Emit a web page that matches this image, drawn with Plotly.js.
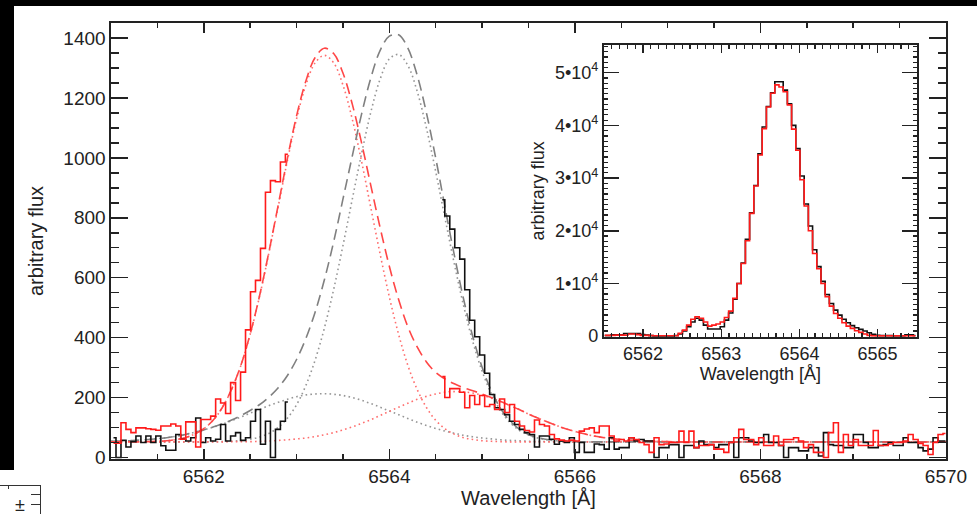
<!DOCTYPE html>
<html>
<head>
<meta charset="utf-8">
<script src="https://cdn.plot.ly/plotly-3.0.1.min.js"></script>
<style>
html,body{margin:0;padding:0;background:#fff;overflow:hidden;}
#wrap{position:relative;width:977px;height:514px;}
#chart{position:absolute;left:0;top:0;width:977px;height:514px;}
.blk{position:absolute;background:#000;}
.ln{position:absolute;background:#333;}
.glyph{position:absolute;font-family:"Liberation Sans",Arial,sans-serif;font-size:18px;line-height:18px;color:#222;}
</style>
</head>
<body>
<div id="wrap">
  <div id="chart"></div>
  <div class="blk" style="left:0;top:0;width:977px;height:6px;"></div>
  <div class="blk" style="left:0;top:0;width:14px;height:470px;"></div>
  <div class="ln" style="left:0;top:485px;width:41px;height:1px;"></div>
  <div class="ln" style="left:40px;top:485px;width:1px;height:29px;"></div>
  <div class="ln" style="left:31px;top:494px;width:9px;height:1px;"></div>
  <div class="ln" style="left:31px;top:504px;width:9px;height:1px;"></div>
  <div class="ln" style="left:8px;top:485px;width:1px;height:4px;"></div>
  <div class="glyph" style="left:15px;top:496px;">±</div>
</div>
<script>
// ---------------- DATA ----------------
// Spectra: histogram bins of equal width (Å); bin centres start at the given wavelengths
const binWidth = 0.0537;
const leftSegmentStart = 6561.027;   // first bin centre, blue part of spectrum
const rightSegmentStart = 6564.571;  // first bin centre, red part of spectrum

const blackLeft = [66, 0, 57, 35, 53, 72, 50, 72, 50, 72, 39, 24, 24, 77, 61, 55, 66, 132, 50, 66,
  55, 61, 110, 55, 72, 83, 57, 66, 121, 160, 44, 121, 0, 94, 121, 185];
const redLeft = [48, 48, 116, 94, 83, 99, 99, 96, 94, 91, 105, 105, 112, 105, 61, 119, 119, 35, 127, 127,
  138, 195, 182, 147, 250, 190, 285, 426, 553, 591, 698, 885, 924, 920, 986, 1012];

const blackRight = [860, 806, 762, 700, 662, 560, 458, 403, 342, 281,
  210, 166, 160, 143, 121, 110, 94, 83, 77, 35,
  72, 72, 61, 44, 55, 50, 66, 17, 50, 17,
  17, 45, 43, 28, 66, 28, 33, 33, 66, 55,
  60, 55, 55, 0, 33, 33, 43, 43, 0, 40,
  40, 33, 55, 43, 43, 33, 43, 43, 50, 0,
  66, 66, 55, 50, 50, 77, 50, 50, 40, 0,
  33, 33, 22, 22, 33, 33, 5, 83, 43, 40,
  40, 33, 33, 77, 77, 50, 33, 33, 40, 43,
  50, 40, 40, 66, 50, 50, 33, 22, 28, 66,
  55, 55];
const redRight = [270, 200, 230, 230, 218, 166, 207, 177, 207, 170,
  177, 160, 195, 150, 177, 121, 105, 90, 85, 125,
  110, 105, 77, 62, 58, 55, 58, 55, 88, 95,
  99, 83, 105, 105, 72, 55, 60, 55, 66, 60,
  50, 43, 17, 66, 43, 45, 50, 50, 88, 50,
  88, 33, 40, 40, 43, 28, 28, 17, 50, 66,
  94, 60, 60, 43, 66, 40, 40, 72, 40, 60,
  60, 66, 55, 33, 43, 17, 17, 0, 83, 116,
  17, 77, 40, 60, 40, 40, 40, 90, 40, 40,
  45, 50, 50, 55, 77, 60, 47, 40, 10, 50,
  77, 80];

// Model (fit) curves, sampled wavelengths in Å
const modelWave = [6561.0, 6561.1, 6561.2, 6561.3, 6561.4, 6561.5, 6561.6, 6561.7, 6561.8, 6561.9,
  6562.0, 6562.1, 6562.2, 6562.3, 6562.4, 6562.5, 6562.6, 6562.7, 6562.8, 6562.9,
  6563.0, 6563.1, 6563.2, 6563.3, 6563.4, 6563.5, 6563.6, 6563.7, 6563.8, 6563.9,
  6564.0, 6564.1, 6564.2, 6564.3, 6564.4, 6564.5, 6564.6, 6564.7, 6564.8, 6564.9,
  6565.0, 6565.1, 6565.2, 6565.3, 6565.4, 6565.5, 6565.6, 6565.7, 6565.8, 6565.9,
  6566.0, 6566.1, 6566.2, 6566.3, 6566.4, 6566.5, 6566.6, 6566.8, 6567.0, 6567.2, 6570.0];

const redTotal = [52, 52, 52, 52, 53, 54, 56, 60, 66, 78,
  96, 124, 167, 228, 308, 412, 538, 683, 839, 996,
  1140, 1256, 1335, 1366, 1348, 1283, 1180, 1051, 908, 768,
  638, 527, 436, 369, 319, 284, 262, 246, 233, 223,
  212, 200, 187, 173, 160, 145, 132, 119, 107, 96,
  87, 79, 72, 67, 63, 60, 58, 55, 53, 52, 52];
const redNarrow = [52, 52, 52, 52, 53, 54, 56, 60, 66, 78,
  96, 124, 167, 227, 307, 411, 536, 680, 834, 989,
  1130, 1243, 1317, 1342, 1317, 1243, 1130, 989, 834, 680,
  536, 411, 307, 227, 167, 124, 96, 78, 66, 60,
  56, 54, 53, 52, 52, 52, 52, 52, 52, 52,
  52, 52, 52, 52, 52, 52, 52, 52, 52, 52, 52];
const redBroad = [52, 52, 52, 52, 52, 52, 52, 52, 52, 52,
  52, 52, 52, 53, 53, 53, 54, 55, 57, 59,
  62, 65, 70, 76, 83, 92, 102, 114, 126, 140,
  154, 168, 181, 194, 204, 212, 218, 220, 219, 215,
  208, 198, 187, 173, 160, 145, 132, 119, 107, 96,
  87, 79, 72, 67, 63, 60, 58, 55, 53, 52, 52];

const greyTotal = [54, 55, 56, 58, 60, 63, 66, 71, 77, 84,
  92, 102, 112, 125, 140, 157, 176, 201, 232, 273,
  327, 397, 485, 593, 720, 862, 1005, 1145, 1266, 1358,
  1406, 1411, 1366, 1276, 1150, 999, 835, 676, 529, 403,
  301, 222, 163, 122, 95, 77, 67, 60, 57, 54,
  53, 52, 52, 52, 52, 52, 52, 52, 52, 52, 52];
const greyNarrow = [52, 52, 52, 52, 52, 52, 52, 52, 52, 52,
  52, 53, 53, 54, 57, 61, 68, 80, 100, 131,
  176, 240, 325, 432, 561, 707, 861, 1013, 1152, 1262,
  1330, 1345, 1308, 1222, 1099, 954, 799, 647, 507, 386,
  288, 212, 156, 117, 91, 75, 65, 59, 56, 54,
  53, 52, 52, 52, 52, 52, 52, 52, 52, 52, 52];
const greyBroad = [54, 55, 56, 58, 60, 63, 66, 71, 77, 84,
  92, 101, 111, 123, 135, 148, 160, 173, 184, 194,
  203, 209, 212, 213, 211, 207, 200, 191, 180, 168,
  155, 143, 130, 118, 107, 97, 88, 81, 74, 69,
  65, 62, 59, 57, 56, 54, 54, 53, 53, 52,
  52, 52, 52, 52, 52, 52, 52, 52, 52, 52, 52];

// Inset: full profile
const insetStart = 6561.510;
const insetBlack = [100, 100, 250, 250, 250, 500, 500, 500, 500, 300,
  200, 100, 0, 0, 0, 0, 0, 100, 400, 1000,
  1800, 2700, 3400, 3050, 2100, 1350, 1350, 1350, 1800, 3050,
  4400, 7000, 10000, 13900, 18400, 23400, 28600, 34600, 39700, 43600,
  46200, 48300, 48300, 46700, 44100, 40000, 35600, 30400, 25100, 20900,
  16400, 13200, 10400, 7900, 6200, 4950, 4000, 3200, 2550, 2000,
  1600, 1290, 970, 650, 340, 150, 100, 100, 100, 50,
  50, 50, 250, 250, 100];
const insetRed = [150, 150, 150, 200, 200, 200, 400, 400, 300, 150,
  150, 100, 80, 80, 80, 80, 80, 80, 530, 1150,
  2100, 3200, 3700, 3400, 2700, 1900, 2100, 2300, 2700, 3550,
  4760, 7170, 10000, 13800, 18100, 23300, 28500, 34400, 39400, 43500,
  46100, 47700, 47300, 46400, 43900, 39300, 35300, 29700, 24700, 20000,
  15700, 12800, 10000, 7500, 5700, 4300, 3400, 2550, 1900, 1480,
  1030, 720, 400, 150, 60, 50, 50, 50, 50, 50,
  50, 50, 50, 50, 50];

const mainTickVals = [0, 200, 400, 600, 800, 1000, 1200, 1400];
const insetTickVals = [0, 10000, 20000, 30000, 40000, 50000];
const insetTickText = ['0', '1•10<sup>4</sup>', '2•10<sup>4</sup>', '3•10<sup>4</sup>', '4•10<sup>4</sup>', '5•10<sup>4</sup>'];

// ---------------- STYLE ----------------
const RED = '#ff1a1a';
const RED_MODEL = 'rgb(255,70,70)';
const RED_DOT = 'rgb(255,110,110)';
const GREY = 'rgb(128,128,128)';
const GREY_DOT = 'rgb(150,150,150)';
const AX = '#222';

function model(y, color, dash, width) {
  return {x: modelWave, y: y, type: 'scatter', mode: 'lines', xaxis: 'x', yaxis: 'y',
    line: {color: color, dash: dash, width: width, shape: 'spline', smoothing: 1}, hoverinfo: 'skip'};
}
function hist(y, start, color, xa, ya) {
  return {y: y, x0: start, dx: binWidth, type: 'scatter', mode: 'lines', xaxis: xa, yaxis: ya,
    line: {color: color, width: 1.6, shape: 'hvh'}, hoverinfo: 'skip'};
}

const traces = [
  model(greyNarrow, GREY_DOT, '1.6px,3.2px', 1.6),
  model(greyBroad, GREY_DOT, '1.6px,3.2px', 1.6),
  model(redNarrow, RED_DOT, '1.6px,3.2px', 1.6),
  model(redBroad, RED_DOT, '1.6px,3.2px', 1.6),
  model(greyTotal, GREY, '11px,6px', 1.6),
  model(redTotal, RED_MODEL, '11px,6px', 1.6),
  hist(blackLeft, leftSegmentStart, '#111', 'x', 'y'),
  hist(blackRight, rightSegmentStart, '#111', 'x', 'y'),
  hist(redLeft, leftSegmentStart, RED, 'x', 'y'),
  hist(redRight, rightSegmentStart, RED, 'x', 'y'),
  hist(insetBlack, insetStart, '#111', 'x2', 'y2'),
  hist(insetRed, insetStart, RED, 'x2', 'y2')
];

const FONT = '"Liberation Sans", Arial, Helvetica, sans-serif';
const common = {showline: true, linecolor: AX, linewidth: 1.6, mirror: 'ticks', ticks: 'inside',
  tickcolor: AX, tickwidth: 1.5, showgrid: false, zeroline: false, fixedrange: true};

const layout = {
  width: 977, height: 514,
  margin: {l: 111, r: 31, t: 23, b: 55, pad: 0},
  paper_bgcolor: '#fff', plot_bgcolor: 'rgba(0,0,0,0)',
  showlegend: false,
  font: {family: FONT, size: 19, color: AX},
  xaxis: Object.assign({}, common, {
    range: [6561, 6570], tick0: 6562, dtick: 2, ticklen: 10,
    tickfont: {size: 19},
    minor: {dtick: 0.5, tick0: 6561, ticks: 'inside', ticklen: 5, tickwidth: 1.5, tickcolor: AX, showgrid: false},
    title: {text: 'Wavelength [Å]', font: {size: 20}, standoff: 2}
  }),
  yaxis: Object.assign({}, common, {
    range: [-5, 1450], tickmode: 'array', tickvals: mainTickVals, ticklen: 17,
    tickfont: {size: 19},
    minor: {dtick: 50, tick0: 0, ticks: 'inside', ticklen: 8, tickwidth: 1.5, tickcolor: AX, showgrid: false},
    title: {text: 'arbitrary flux', font: {size: 20}, standoff: 14}
  }),
  xaxis2: Object.assign({}, common, {
    domain: [0.5904, 0.9649], anchor: 'y2', linewidth: 2,
    range: [6561.5, 6565.5], tick0: 6562, dtick: 1, ticklen: 8,
    tickfont: {size: 18},
    minor: {dtick: 0.1, tick0: 6561.5, ticks: 'inside', ticklen: 4, tickwidth: 1.2, tickcolor: AX, showgrid: false},
    title: {text: 'Wavelength [Å]', font: {size: 18}, standoff: 0}
  }),
  yaxis2: Object.assign({}, common, {
    domain: [0.2805, 0.9495], anchor: 'x2', linewidth: 2,
    range: [-100, 55260], tickmode: 'array', tickvals: insetTickVals, ticktext: insetTickText, ticklen: 15,
    tickfont: {size: 18},
    minor: {dtick: 1000, tick0: 0, ticks: 'inside', ticklen: 4, tickwidth: 1.2, tickcolor: AX, showgrid: false},
    title: {text: 'arbitrary flux', font: {size: 18}, standoff: 6}
  })
};

Plotly.newPlot('chart', traces, layout, {staticPlot: true, displayModeBar: false});
</script>
</body>
</html>
